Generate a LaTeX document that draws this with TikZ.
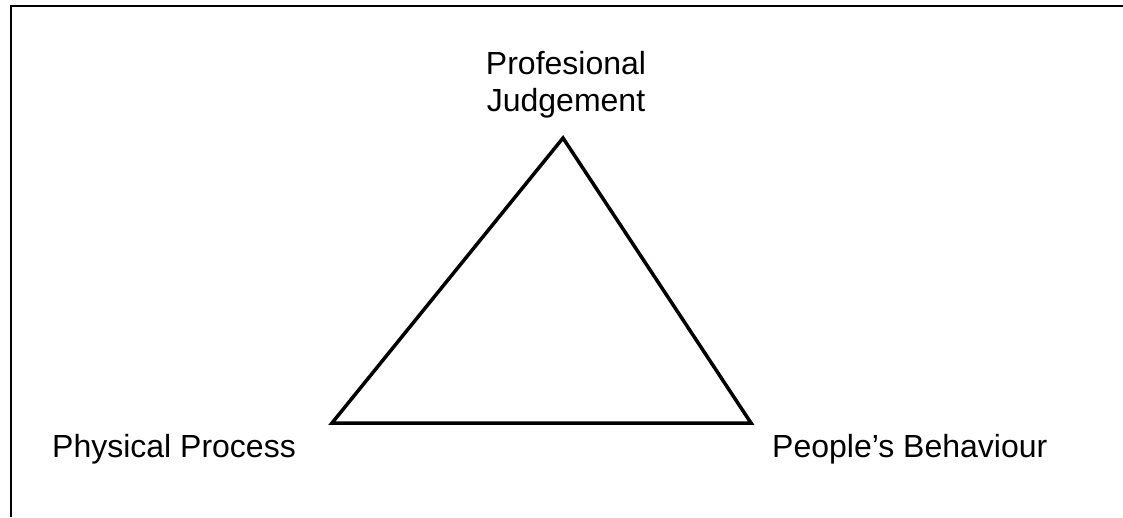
\documentclass[tikz,border=0pt]{standalone}
\usepackage{fontspec}
\setmainfont{Liberation Sans}
\usepackage{tikz}
\usetikzlibrary{positioning}

\begin{document}
\begin{tikzpicture}[
  x=1pt, y=1pt,
  lbl/.style={inner sep=0pt, align=center, font=\fontsize{32}{37}\selectfont},
  side/.style={line width=3.5pt, line join=miter},
  frameline/.style={line width=2pt}
]
  \useasboundingbox (0,0) rectangle (1123,517);
  % frame (only top and left edge visible)
  \coordinate (fbl) at (11,0);
  \coordinate (ftl) at (11,511);
  \coordinate (ftr) at (1123,511);
  \draw[frameline] (fbl) -- (ftl) -- (ftr);

  % corners of the triangle
  \coordinate (judge) at (563,379);
  \coordinate (phys)  at (332,94);
  \coordinate (people) at (751,94);
  \draw[side] (judge) -- (people) -- (phys) -- cycle;

  \node[lbl, anchor=base] (tjudge) at (566,405) {Profesional\\Judgement};
  \node[lbl, anchor=base west] (tphys) at (52,60) {Physical Process};
  \node[lbl, anchor=base west] (tpeople) at (772,60) {People's Behaviour};
\end{tikzpicture}
\end{document}
